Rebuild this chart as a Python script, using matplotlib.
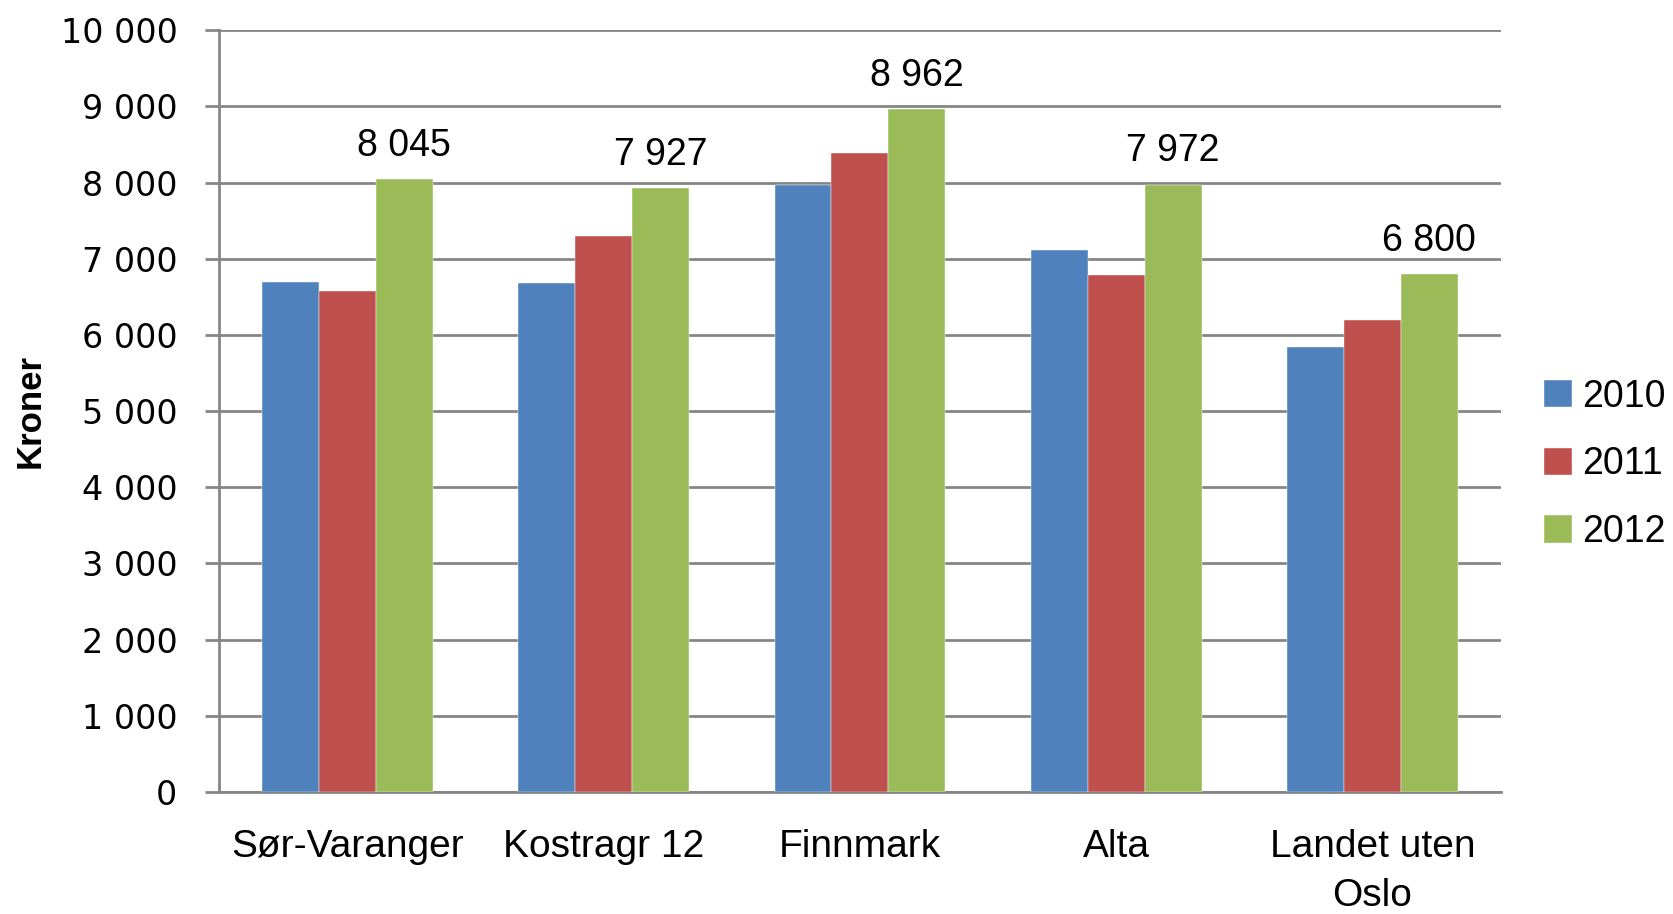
import numpy as np
import matplotlib.pyplot as plt
from matplotlib.ticker import FuncFormatter

categories = ['Sør-Varanger', 'Kostragr 12', 'Finnmark', 'Alta', 'Landet uten\nOslo']
years = ['2010', '2011', '2012']
v2010 = [6700, 6680, 7970, 7110, 5840]
v2011 = [6570, 7300, 8390, 6780, 6190]
v2012 = [8045, 7927, 8962, 7972, 6800]
colors = ['#4F81BD', '#C0504D', '#9BBB59']

fig = plt.figure(figsize=(16.73, 9.14), dpi=100)
ax = fig.add_axes([0.131, 0.1335, 0.766, 0.8335])

x = np.arange(len(categories))
w = 0.222
series = [v2010, v2011, v2012]
bars = []
for i, (vals, c, yr) in enumerate(zip(series, colors, years)):
    b = ax.bar(x + (i - 1) * w, vals, w, color=c, label=yr, zorder=3,
               edgecolor='white', linewidth=0.3)
    bars.append(b)

# only 2012 gets value labels
for rect, v in zip(bars[2], v2012):
    ax.annotate(f'{v:,}'.replace(',', ' '),
                (rect.get_x() + rect.get_width() / 2, v),
                xytext=(0, 11), textcoords='offset points',
                ha='center', va='bottom', fontsize=27, family='Liberation Sans')

ax.set_xlim(-0.5, len(categories) - 0.5)
ax.set_ylim(0, 10000)
ax.set_yticks(np.arange(0, 10001, 1000))
ax.yaxis.set_major_formatter(FuncFormatter(lambda v, p: f'{int(v):,}'.replace(',', ' ')))
ax.grid(axis='y', color='#868686', linewidth=2, zorder=0)
ax.set_axisbelow(True)

for s in ['top', 'right']:
    ax.spines[s].set_visible(False)
for s in ['left', 'bottom']:
    ax.spines[s].set_color('#868686')
    ax.spines[s].set_linewidth(2)

ax.tick_params(axis='y', length=10, width=2, color='#868686', pad=20, labelsize=24)
ax.tick_params(axis='x', length=0, pad=27)
ax.set_xticks(x)
ax.set_xticklabels(categories, fontsize=28, family='Liberation Sans', linespacing=1.45)
for lbl in ax.get_xticklabels():
    lbl.set_multialignment('center')

fig.text(0.018, 0.55, 'Kroner', rotation=90, ha='center', va='center',
         fontsize=25, fontweight='bold', family='Liberation Sans')

leg = ax.legend(loc='center left', bbox_to_anchor=(1.034, 0.43), frameon=False,
                prop={'family': 'Liberation Sans', 'size': 27},
                borderaxespad=0, borderpad=0,
                handlelength=0.75, handleheight=0.75, handletextpad=0.25,
                labelspacing=0.85)

fig.savefig('out.png', dpi=100)
